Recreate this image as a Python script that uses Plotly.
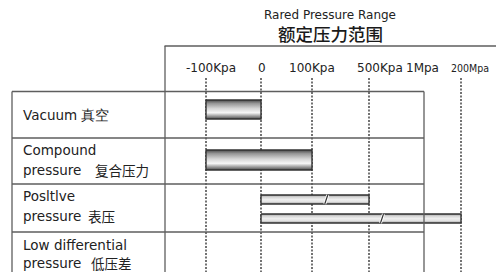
import numpy as np
import plotly.graph_objects as go

# ---------------- data ----------------
title_en = "Rared Pressure Range"
title_zh = "额定压力范围"
tick_labels = ["-100Kpa", "0", "100Kpa", "500Kpa", "1Mpa", "200Mpa"]
tick_kpa = [-100, 0, 100, 500, 1000, 200000]
row_lines_en = ["Vacuum", "Compound", "Posltlve", "Low differential"]
row_lines_2 = ["", "pressure", "pressure", "pressure"]
row_zh = ["真空", "复合压力", "表压", "低压差"]
bar_row = [0, 1, 2, 2]
bar_low = [-100, -100, 0, 0]
bar_high = [0, 100, 500, 200000]
bar_break = [None, None, 200, 618]
bar_style = ["dark", "dark", "light", "light"]

# ---------------- layout (pixel units) ----------------
W, H = 496, 272
scale_px = [206, 261, 312, 369, 424, 461]
label_dx = [5, 1, 0, 11, -2, 9]
dotted = [True, True, True, True, False, True]
tbl_left, tbl_mid, tbl_right = 12, 165, 424
row_tops = [91.5, 138, 184, 232, 280]
bar_y = [(100, 119), (150, 170), (195, 204), (214, 223)]
LINE = "#5e5e5e"
FONT = "DejaVu Sans"


def px(kpa):
    return float(np.interp(kpa, tick_kpa, scale_px))


fig = go.Figure()

# dotted guide lines
for i, p in enumerate(scale_px):
    if dotted[i]:
        fig.add_shape(type="line", x0=p, x1=p, y0=78, y1=H + 2, xref="x", yref="y",
                      line=dict(color="#444", width=1.5, dash="2px,1.5px"), layer="below")

# outer frame
fig.add_shape(type="line", x0=164.5, x1=W + 5, y0=46, y1=46, xref="x", yref="y",
              line=dict(color=LINE, width=1.3))
fig.add_shape(type="line", x0=tbl_mid, x1=tbl_mid, y0=46, y1=H + 5, xref="x", yref="y",
              line=dict(color=LINE, width=1.3))
# table
fig.add_shape(type="line", x0=tbl_left, x1=tbl_left, y0=row_tops[0], y1=H + 5, xref="x", yref="y",
              line=dict(color=LINE, width=1.3))
fig.add_shape(type="line", x0=tbl_right, x1=tbl_right, y0=row_tops[0], y1=H + 5, xref="x", yref="y",
              line=dict(color=LINE, width=1.3))
for yt in row_tops[:4]:
    fig.add_shape(type="line", x0=tbl_left, x1=tbl_right, y0=yt, y1=yt, xref="x", yref="y",
                  line=dict(color=LINE, width=1.3))

cs = {
    "dark": [[0, "#4a4a4a"], [0.12, "#8c8c8c"], [0.33, "#f6f6f6"], [0.55, "#d6d6d6"],
             [0.82, "#969696"], [1, "#4a4a4a"]],
    "light": [[0, "#9a9a9a"], [0.25, "#e2e2e2"], [0.5, "#eeeeee"], [0.8, "#d2d2d2"],
              [1, "#8a8a8a"]],
}

for i in range(len(bar_low)):
    x0, x1 = px(bar_low[i]), px(bar_high[i])
    y0, y1 = bar_y[i]
    fig.add_trace(go.Scatter(
        x=[x0, x1, x1, x0, x0], y=[y0, y0, y1, y1, y0], mode="lines", fill="toself",
        line=dict(color="#333", width=1.4),
        fillgradient=dict(type="vertical", colorscale=cs[bar_style[i]]),
        hoverinfo="skip", showlegend=False))
    if bar_break[i] is not None:
        xb = px(bar_break[i])
        fig.add_trace(go.Scatter(
            x=[xb - 1.5, xb + 1.5], y=[y1, y0], mode="lines",
            line=dict(color="white", width=3), hoverinfo="skip", showlegend=False))
        fig.add_trace(go.Scatter(
            x=[xb - 1.5, xb + 1.5], y=[y1, y0], mode="lines",
            line=dict(color="#333", width=1.2), hoverinfo="skip", showlegend=False))

ann = []
ann.append(dict(x=330, y=15, text=title_en, font=dict(family=FONT, size=12, color="#222")))
ann.append(dict(x=330, y=33.5, text=title_zh,
                font=dict(family="Noto Sans CJK SC", size=17.5, color="#1a1a1a", weight=500)))
for i, t in enumerate(tick_labels):
    f = dict(family=FONT, size=12, color="#222")
    if i == len(tick_labels) - 1:
        f = dict(family="DejaVu Sans Condensed, " + FONT, size=10.5, color="#222")
    ann.append(dict(x=scale_px[i] + label_dx[i], y=68, text=t, font=f))

# row labels
label_x = 23
for r in range(4):
    if row_lines_2[r] == "":
        ann.append(dict(x=label_x, y=115, text=row_lines_en[r] + " " + row_zh[r],
                        xanchor="left", font=dict(family=FONT, size=13.5, color="#222")))
    else:
        yc = [(150, 170), (196, 216), (245, 263)][r - 1]
        zx = [95, 88, 91][r - 1]
        ann.append(dict(x=label_x, y=yc[0], text=row_lines_en[r], xanchor="left",
                        font=dict(family=FONT, size=13.5, color="#222")))
        ann.append(dict(x=label_x, y=yc[1], text=row_lines_2[r], xanchor="left",
                        font=dict(family=FONT, size=13.5, color="#222")))
        ann.append(dict(x=zx, y=yc[1], text=row_zh[r], xanchor="left",
                        font=dict(family="Noto Sans CJK SC", size=13.5, color="#222")))

for a in ann:
    a.setdefault("xanchor", "center")
    a.update(xref="x", yref="y", yanchor="middle", showarrow=False, borderpad=0, borderwidth=0)

fig.update_layout(
    width=W, height=H, margin=dict(l=0, r=0, t=0, b=0),
    paper_bgcolor="white", plot_bgcolor="white",
    xaxis=dict(range=[0, W], visible=False, fixedrange=True),
    yaxis=dict(range=[H, 0], visible=False, fixedrange=True),
    annotations=ann, showlegend=False,
)

fig.write_html("out.html", config={"displayModeBar": False},
               post_script="document.body.style.margin='0';document.body.style.overflow='hidden';")
